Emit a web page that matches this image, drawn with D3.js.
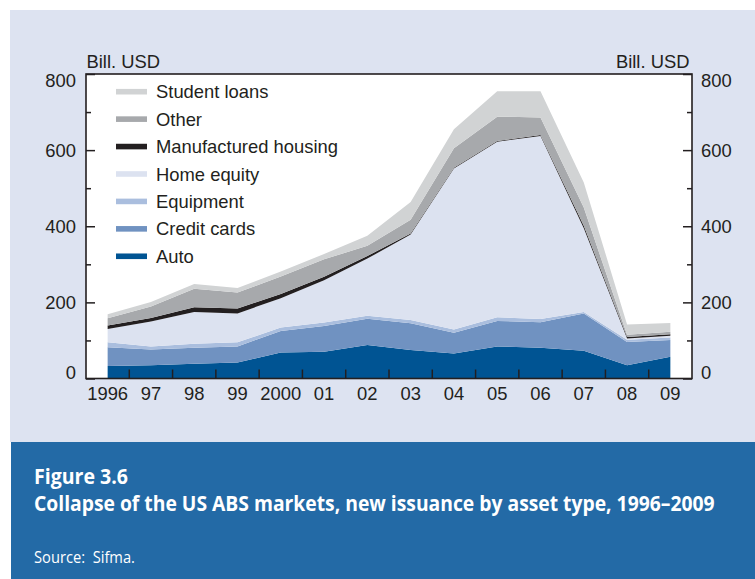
<!DOCTYPE html>
<html>
<head>
<meta charset="utf-8">
<script src="https://cdn.jsdelivr.net/npm/d3@7/dist/d3.min.js"></script>
<style>
  body { margin: 0; background: #fff; }
  svg text { font-family: "Liberation Sans", Arial, sans-serif; fill: #231f20; }
  .cap text { font-family: "Open Sans", sans-serif; fill: #fff; }
</style>
</head>
<body>
<div id="chart"></div>
<script>
// data, bill. USD
var years = ["1996","1997","1998","1999","2000","2001","2002","2003","2004","2005","2006","2007","2008","2009"];
var year_labels = ["1996","97","98","99","2000","01","02","03","04","05","06","07","08","09"];
var auto         = [33, 35, 39, 42, 68, 70, 88, 75, 66, 84, 81, 73, 35, 57];
var credit_cards = [49, 41, 42, 42, 57, 68, 69, 70, 54, 67, 67, 98, 61, 44];
var equipment    = [13,  8, 10, 11,  9,  9,  8,  9,  9, 10,  8,  4,  6,  7];
var home_equity  = [35, 66, 84, 76, 77,111,150,224,423,461,481,220,  3,  4];
var manufactured = [ 9,  9, 12, 13, 11,  9,  7,  3,  2,  2,  3,  6,  4,  4];
var other        = [19, 30, 49, 42, 46, 46, 27, 36, 51, 64, 46, 48,  6,  7];
var student      = [11, 12, 12, 12, 13, 14, 26, 47, 50, 67, 69, 66, 27, 23];
var y_ticks = [0, 200, 400, 600, 800];
var y_minor = [100, 300, 500, 700];

var series_names = ["Auto", "Credit cards", "Equipment", "Home equity", "Manufactured housing", "Other", "Student loans"];
var series_vals = [auto, credit_cards, equipment, home_equity, manufactured, other, student];
var colors = ["#005493", "#7092c1", "#aabede", "#dce2f0", "#231f20", "#a7a9ac", "#d1d3d4"];

var W = 755, H = 579;
var plot = { left: 86, right: 692, top: 74, bottom: 378.5 };

// build rows for d3.stack
var rows = years.map(function (y, i) {
    var r = { year: y };
    series_names.forEach(function (n, k) { r[n] = series_vals[k][i]; });
    return r;
});

var svg = d3.select("#chart").append("svg")
    .attr("width", W).attr("height", H);

// backgrounds
svg.append("rect").attr("x", 10).attr("y", 10).attr("width", W - 10).attr("height", 432).attr("fill", "#dde3f1");
svg.append("rect").attr("x", plot.left).attr("y", plot.top)
   .attr("width", plot.right - plot.left).attr("height", plot.bottom - plot.top).attr("fill", "#fff");

var x = d3.scaleBand().domain(years).range([plot.left, plot.right]).padding(0);
var y = d3.scaleLinear().domain([0, 800]).range([plot.bottom, plot.top]);

var stack = d3.stack().keys(series_names);
var layers = stack(rows);

var area = d3.area()
    .x(function (d) { return x(d.data.year) + x.bandwidth() / 2; })
    .y0(function (d) { return y(d[0]); })
    .y1(function (d) { return y(d[1]); });

svg.append("g").selectAll("path")
   .data(layers)
   .enter().append("path")
   .attr("d", area)
   .attr("fill", function (d, i) { return colors[i]; });

// frame
svg.append("rect").attr("x", plot.left).attr("y", plot.top)
   .attr("width", plot.right - plot.left).attr("height", plot.bottom - plot.top)
   .attr("fill", "none").attr("stroke", "#231f20").attr("stroke-width", 1.6);

// x axis: labels at band centres, ticks at band edges
var xAxis = svg.append("g")
    .attr("transform", "translate(0," + plot.bottom + ")")
    .call(d3.axisBottom(x).tickSize(0).tickPadding(8.5)
            .tickFormat(function (d, i) { return year_labels[i]; }));
xAxis.select(".domain").remove();
xAxis.selectAll("text").style("font-size", "18.4px").attr("fill", "#231f20");

svg.append("g").selectAll("line")
   .data(years.slice(1))
   .enter().append("line")
   .attr("x1", function (d) { return x(d); })
   .attr("x2", function (d) { return x(d); })
   .attr("y1", plot.bottom).attr("y2", plot.bottom - 9)
   .attr("stroke", "#231f20").attr("stroke-width", 1.5);

// y axes, ticks point inward
function fix_labels(g) {
    g.select(".domain").remove();
    g.selectAll("line").attr("stroke", "#231f20").attr("stroke-width", 1.5);
    g.selectAll("text").style("font-size", "18.4px").attr("fill", "#231f20")
     .attr("dy", function (d) { return d === 800 ? "0.7em" : (d === 0 ? "0" : "0.35em"); });
}

svg.append("g").attr("transform", "translate(" + plot.left + ",0)")
   .call(d3.axisLeft(y).tickValues(y_ticks).tickSize(-9).tickPadding(10))
   .call(fix_labels);
svg.append("g").attr("transform", "translate(" + plot.left + ",0)")
   .call(d3.axisLeft(y).tickValues(y_minor).tickSize(-5).tickFormat(""))
   .call(fix_labels);
svg.append("g").attr("transform", "translate(" + plot.right + ",0)")
   .call(d3.axisRight(y).tickValues(y_ticks).tickSize(-9).tickPadding(9))
   .call(fix_labels);
svg.append("g").attr("transform", "translate(" + plot.right + ",0)")
   .call(d3.axisRight(y).tickValues(y_minor).tickSize(-5).tickFormat(""))
   .call(fix_labels);

// unit labels
svg.append("text").attr("x", plot.left + 0.5).attr("y", 68).style("font-size", "18.4px").text("Bill. USD");
svg.append("text").attr("x", plot.right - 2.5).attr("y", 68).attr("text-anchor", "end")
   .style("font-size", "18.4px").text("Bill. USD");

// legend, top series first
var legend = svg.append("g").selectAll("g")
    .data(series_names.slice().reverse())
    .enter().append("g")
    .attr("transform", function (d, i) { return "translate(116," + (91.7 + i * 27.43) + ")"; });
legend.append("rect").attr("x", 0).attr("y", -2.8).attr("width", 31).attr("height", 5.6)
      .attr("fill", function (d) { return colors[series_names.indexOf(d)]; });
legend.append("text").attr("x", 40).attr("y", 6.6).style("font-size", "18.4px")
      .text(function (d) { return d; });

// caption box
var cap = svg.append("g").attr("class", "cap");
cap.append("rect").attr("x", 11).attr("y", 442).attr("width", W - 11).attr("height", H - 442).attr("fill", "#236aa6");

// condensed look: squeeze each line horizontally to the target width
function cap_text(txt, px, py, size, weight, target) {
    var g = cap.append("g");
    var t = g.append("text").attr("x", 0).attr("y", 0)
             .style("font-size", size + "px").style("font-weight", weight).text(txt);
    var w = t.node().getComputedTextLength();
    var k = Math.min(1, target / w);
    g.attr("transform", "translate(" + px + "," + py + ") scale(" + k + ",1)");
}
cap_text("Figure 3.6", 34, 484, 21.5, 700, 94);
cap_text("Collapse of the US ABS markets, new issuance by asset type, 1996\u20132009", 34, 510.5, 21.5, 700, 681);
cap_text("Source:\u00a0 Sifma.", 34, 563, 17, 400, 101);
</script>
</body>
</html>
